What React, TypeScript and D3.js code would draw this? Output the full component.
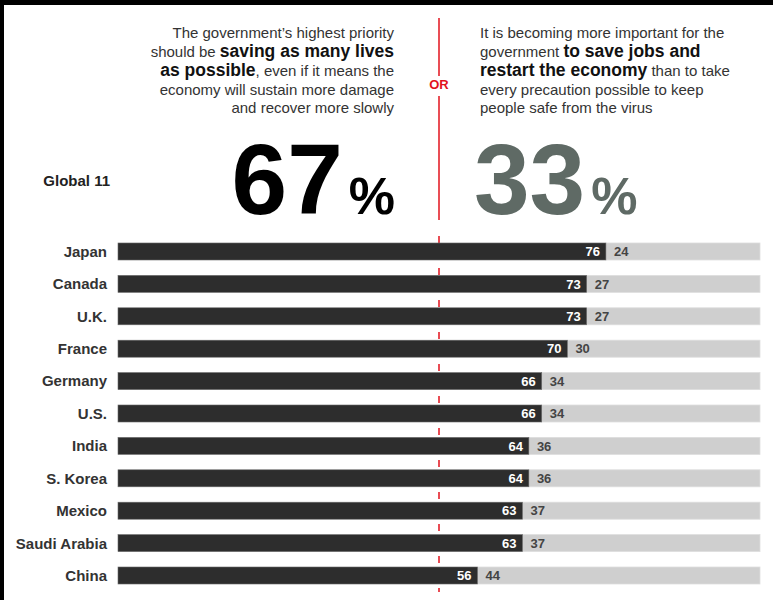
import { useEffect, useRef } from 'react'
import * as d3 from 'd3'

const countries = ['Japan', 'Canada', 'U.K.', 'France', 'Germany', 'U.S.', 'India', 'S. Korea', 'Mexico', 'Saudi Arabia', 'China']
const saveLives = [76, 73, 73, 70, 66, 66, 64, 64, 63, 63, 56]
const saveEconomy = [24, 27, 27, 30, 34, 34, 36, 36, 37, 37, 44]
const globalLives = 67
const globalEconomy = 33

type Seg = { t: string; b?: boolean }
const leftLines: Seg[][] = [
  [{ t: 'The government’s highest priority' }],
  [{ t: 'should be ' }, { t: 'saving as many lives', b: true }],
  [{ t: 'as possible', b: true }, { t: ', even if it means the' }],
  [{ t: 'economy will sustain more damage' }],
  [{ t: 'and recover more slowly' }],
]
const rightLines: Seg[][] = [
  [{ t: 'It is becoming more important for the' }],
  [{ t: 'government ' }, { t: 'to save jobs and', b: true }],
  [{ t: 'restart the economy', b: true }, { t: ' than to take' }],
  [{ t: 'every precaution possible to keep' }],
  [{ t: 'people safe from the virus' }],
]

const W = 773
const H = 600
const FONT = '"Liberation Sans", Arial, Helvetica, sans-serif'
const RED = '#e2121c'

export default function App() {
  const svgRef = useRef<SVGSVGElement | null>(null)

  useEffect(() => {
    if (!svgRef.current) return
    const svg = d3.select(svgRef.current)
    svg.selectAll('*').remove()
    svg.style('font-family', FONT)

    const rows = countries.map((c, i) => ({ country: c, lives: saveLives[i], economy: saveEconomy[i] }))

    const x = d3.scaleLinear().domain([0, 100]).range([118, 760])
    const y = d3
      .scaleBand<string>()
      .domain(countries)
      .range([227.6, 599.4])
      .padding(0.475)
    const mid = x(50)

    svg.append('rect').attr('width', W).attr('height', H).attr('fill', '#fff')

    // frame
    svg.append('rect').attr('x', 0).attr('y', 0).attr('width', W).attr('height', 5).attr('fill', '#000')
    svg.append('rect').attr('x', 0).attr('y', 0).attr('width', 4).attr('height', H).attr('fill', '#000')

    // headline blocks
    const baselines = [38, 57, 76, 95, 113]
    const drawBlock = (lines: Seg[][], xPos: number, anchor: string) => {
      lines.forEach((line, i) => {
        const t = svg
          .append('text')
          .attr('x', xPos)
          .attr('y', baselines[i])
          .attr('text-anchor', anchor)
        line.forEach(seg => {
          t.append('tspan')
            .text(seg.t)
            .attr('font-size', seg.b ? 17.5 : 15)
            .attr('font-weight', seg.b ? 700 : 400)
            .attr('fill', seg.b ? '#111' : '#333')
        })
      })
    }
    drawBlock(leftLines, 394, 'end')
    drawBlock(rightLines, 480, 'start')

    // red divider
    svg.append('line').attr('x1', mid).attr('x2', mid).attr('y1', 18).attr('y2', 76)
      .attr('stroke', RED).attr('stroke-width', 1.5)
    svg.append('line').attr('x1', mid).attr('x2', mid).attr('y1', 96).attr('y2', 220)
      .attr('stroke', RED).attr('stroke-width', 1.5)
    svg.append('text').attr('x', mid).attr('y', 88.5).attr('text-anchor', 'middle')
      .attr('font-size', 13).attr('font-weight', 700).attr('fill', RED).text('OR')

    // global numbers
    const big = svg.append('text').attr('x', 395).attr('y', 214).attr('text-anchor', 'end').attr('fill', '#000')
    big.append('tspan').attr('font-size', 100).attr('font-weight', 700).text(String(globalLives))
    big.append('tspan').attr('dx', 6).attr('font-size', 52).attr('font-weight', 700).text('%')

    const big2 = svg.append('text').attr('x', 474).attr('y', 214).attr('text-anchor', 'start').attr('fill', '#5f6a65')
    big2.append('tspan').attr('font-size', 100).attr('font-weight', 700).text(String(globalEconomy))
    big2.append('tspan').attr('dx', 6).attr('font-size', 52).attr('font-weight', 700).text('%')

    svg.append('text').attr('x', 110).attr('y', 186).attr('text-anchor', 'end')
      .attr('font-size', 15).attr('font-weight', 700).attr('fill', '#222').text('Global 11')

    // dashed line behind bars
    svg.append('line').attr('x1', mid).attr('x2', mid).attr('y1', 236).attr('y2', 592)
      .attr('stroke', RED).attr('stroke-width', 1.5).attr('stroke-dasharray', '7,9')

    const g = svg.append('g')

    g.selectAll('.bg')
      .data(rows)
      .join('rect')
      .attr('class', 'bg')
      .attr('x', d => x(d.lives))
      .attr('y', d => y(d.country) ?? 0)
      .attr('width', d => x(100) - x(d.lives))
      .attr('height', y.bandwidth())
      .attr('fill', '#cfcfcf')
      .attr('stroke', '#dedede')
      .attr('stroke-width', 0.8)

    g.selectAll('.fg')
      .data(rows)
      .join('rect')
      .attr('class', 'fg')
      .attr('x', x(0))
      .attr('y', d => y(d.country) ?? 0)
      .attr('width', d => x(d.lives) - x(0))
      .attr('height', y.bandwidth())
      .attr('fill', '#2d2d2d')
      .attr('stroke', '#6a6a6a')
      .attr('stroke-width', 0.6)

    const cy = (d: { country: string }) => (y(d.country) ?? 0) + y.bandwidth() / 2

    g.selectAll('.lv')
      .data(rows)
      .join('text')
      .attr('class', 'lv')
      .attr('x', d => x(d.lives) - 6)
      .attr('y', cy)
      .attr('dy', '0.36em')
      .attr('text-anchor', 'end')
      .attr('font-size', 13)
      .attr('font-weight', 700)
      .attr('fill', '#fff')
      .text(d => d.lives)

    g.selectAll('.ev')
      .data(rows)
      .join('text')
      .attr('class', 'ev')
      .attr('x', d => x(d.lives) + 8)
      .attr('y', cy)
      .attr('dy', '0.36em')
      .attr('text-anchor', 'start')
      .attr('font-size', 13)
      .attr('font-weight', 700)
      .attr('fill', '#444')
      .text(d => d.economy)

    g.selectAll('.cl')
      .data(rows)
      .join('text')
      .attr('class', 'cl')
      .attr('x', 107)
      .attr('y', cy)
      .attr('dy', '0.36em')
      .attr('text-anchor', 'end')
      .attr('font-size', 15)
      .attr('font-weight', 700)
      .attr('fill', '#333')
      .text(d => d.country)
  }, [])

  return (
    <svg
      ref={svgRef}
      width={W}
      height={H}
      style={{ position: 'absolute', left: 0, top: 0 }}
    />
  )
}
